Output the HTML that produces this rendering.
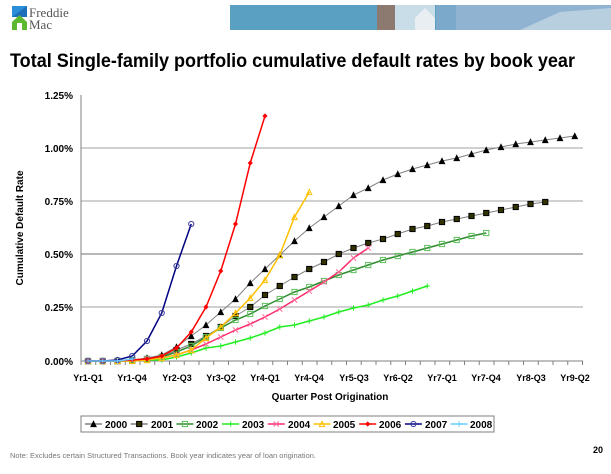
<!DOCTYPE html>
<html><head><meta charset="utf-8"><style>
body{margin:0;width:611px;height:469px;background:#fff;overflow:hidden;font-family:"Liberation Sans",sans-serif;}
</style></head><body>
<svg width="611" height="469" xmlns="http://www.w3.org/2000/svg" font-family="Liberation Sans, sans-serif">
<rect x="12" y="6" width="15" height="11" fill="#2a8fd8"/>
<polygon points="12,17 27,6 27,17" fill="#1c6fb8"/>
<polygon points="12,22 19.5,15 27,22 27,30 12,30" fill="#5cb830"/>
<rect x="17" y="23" width="5" height="7" fill="#fff"/>
<text x="29" y="17" font-family="Liberation Serif, serif" font-size="13" fill="#555">Freddie</text>
<text x="29" y="29" font-family="Liberation Serif, serif" font-size="13" fill="#555">Mac</text>
<rect x="230" y="5" width="381" height="25" fill="#5aa0c3"/>
<rect x="377" y="5" width="18" height="25" fill="#8c7a70"/>
<rect x="395" y="5" width="40" height="25" fill="#c9dde8"/>
<polygon points="415,18 425,8 435,18 435,30 415,30" fill="#e8eef2"/>
<rect x="436" y="5" width="20" height="25" fill="#7aa9cc"/>
<rect x="456" y="5" width="155" height="25" fill="#8fb3d0"/>
<polygon points="520,30 560,12 611,8 611,30" fill="#b8cfe0"/>
<text x="10" y="67" font-size="19" font-weight="bold" fill="#000" textLength="565" lengthAdjust="spacingAndGlyphs">Total Single-family portfolio cumulative default rates by book year</text>
<g stroke="#a0a0a0" stroke-width="1">
<line x1="81" y1="148" x2="583" y2="148"/>
<line x1="81" y1="201" x2="583" y2="201"/>
<line x1="81" y1="254" x2="583" y2="254" stroke="#707070"/>
<line x1="81" y1="307" x2="583" y2="307"/>
</g>
<line x1="81" y1="95" x2="81" y2="361" stroke="#808080"/>
<line x1="81" y1="361" x2="583" y2="361" stroke="#808080"/>
<g id="ticks" stroke="#808080"></g>
<g font-size="10" font-weight="bold" fill="#000" text-anchor="end">
<text x="73" y="99">1.25%</text><text x="73" y="152">1.00%</text><text x="73" y="205">0.75%</text>
<text x="73" y="258">0.50%</text><text x="73" y="311">0.25%</text><text x="73" y="365">0.00%</text>
</g>
<g font-size="9" font-weight="bold" fill="#000" text-anchor="middle">
<text x="88" y="381">Yr1-Q1</text><text x="132" y="381">Yr1-Q4</text><text x="177" y="381">Yr2-Q3</text>
<text x="221" y="381">Yr3-Q2</text><text x="265" y="381">Yr4-Q1</text><text x="309" y="381">Yr4-Q4</text>
<text x="354" y="381">Yr5-Q3</text><text x="398" y="381">Yr6-Q2</text><text x="442" y="381">Yr7-Q1</text>
<text x="486" y="381">Yr7-Q4</text><text x="531" y="381">Yr8-Q3</text><text x="575" y="381">Yr9-Q2</text>
</g>
<text x="330" y="400" font-size="10" font-weight="bold" text-anchor="middle">Quarter Post Origination</text>
<text transform="translate(23,228) rotate(-90)" font-size="10" font-weight="bold" text-anchor="middle">Cumulative Default Rate</text>
<g id="series"></g>
<rect x="81" y="416" width="413" height="16" fill="#fff" stroke="#808080"/>
<g id="leg"></g>
<g font-size="10" font-weight="bold" fill="#000">
<text x="105" y="428">2000</text><text x="151" y="428">2001</text><text x="196" y="428">2002</text>
<text x="242" y="428">2003</text><text x="288" y="428">2004</text><text x="333" y="428">2005</text>
<text x="379" y="428">2006</text><text x="425" y="428">2007</text><text x="470" y="428">2008</text>
</g>
<text x="10" y="458" font-size="7.5" fill="#777">Note:  Excludes certain Structured Transactions.  Book year indicates year of loan origination.</text>
<text x="603" y="453" font-size="9" font-weight="bold" text-anchor="end">20</text>
</svg>
<script>
var NS="http://www.w3.org/2000/svg";
function X(i){return 88+i*14.75;}
var t=document.getElementById('ticks');
for(var i=0;i<=34;i++){var l=document.createElementNS(NS,'line');var x=81+i*14.75;l.setAttribute('x1',x);l.setAttribute('x2',x);l.setAttribute('y1',361);l.setAttribute('y2',365);t.appendChild(l);}
var S=[
{c:"#808080",m:"tri",mc:"#000",d:[361,361,361,360,358,355,347,336,325,312,299,283,269,255,241,228,217,206,195,188,180,174,169,165,161,158,154,150,147,144,142,140,138,136]},
{c:"#808080",m:"sq",mc:"#333300",d:[361,361,361,360,359,357,350,344,336,327,316,307,295,286,277,269,262,254,248,243,239,234,229,226,222,219,216,213,210,207,204,202]},
{c:"#2e8b2e",m:"osq",mc:"#5cc05c",d:[361,361,361,360,359,357,352,346,337,328,320,314,306,299,292,287,281,275,270,265,260,256,252,248,244,240,236,233]},
{c:"#22ee22",m:"plus",mc:"#22ee22",d:[361,361,361,361,360,360,357,353,348,346,342,338,333,327,325,321,317,312,308,305,300,296,291,286]},
{c:"#ff2a6a",m:"x",mc:"#ff6a9a",d:[361,361,361,360,359,358,355,350,344,337,330,324,317,309,300,291,282,272,258,248]},
{c:"#ffc000",m:"otri",mc:"#ffc000",d:[361,361,361,361,360,358,355,350,338,327,313,298,280,255,217,192]},
{c:"#ff0000",m:"dia",mc:"#ff0000",d:[361,361,361,360,359,356,348,332,307,271,224,163,116]},
{c:"#000080",m:"circ",mc:"#4040a0",d:[361,361,360,356,341,313,266,224]},
{c:"#66ccff",m:"plus",mc:"#66ccff",d:[361,361,361,359]}
];
function mark(g,m,x,y,c,sm){var e,s=sm||2.6;
 if(m=="tri"||m=="otri"){e=document.createElementNS(NS,'polygon');e.setAttribute('points',(x-s)+','+(y+s)+' '+x+','+(y-s)+' '+(x+s)+','+(y+s));e.setAttribute('fill',m=="tri"?c:'none');e.setAttribute('stroke',c);}
 else if(m=="sq"||m=="osq"){e=document.createElementNS(NS,'rect');e.setAttribute('x',x-s);e.setAttribute('y',y-s);e.setAttribute('width',2*s);e.setAttribute('height',2*s);e.setAttribute('fill',m=="sq"?c:'none');e.setAttribute('stroke',m=="sq"?'#000':c);}
 else if(m=="dia"){e=document.createElementNS(NS,'polygon');e.setAttribute('points',(x-s)+','+y+' '+x+','+(y-s)+' '+(x+s)+','+y+' '+x+','+(y+s));e.setAttribute('fill',c);}
 else if(m=="circ"){e=document.createElementNS(NS,'circle');e.setAttribute('cx',x);e.setAttribute('cy',y);e.setAttribute('r',s);e.setAttribute('fill','none');e.setAttribute('stroke',c);}
 else {e=document.createElementNS(NS,'path');var d=m=="x"?'M'+(x-s)+' '+(y-s)+'L'+(x+s)+' '+(y+s)+'M'+(x-s)+' '+(y+s)+'L'+(x+s)+' '+(y-s):'M'+(x-s)+' '+y+'L'+(x+s)+' '+y+'M'+x+' '+(y-s)+'L'+x+' '+(y+s);e.setAttribute('d',d);e.setAttribute('stroke',c);}
 g.appendChild(e);}
var g=document.getElementById('series'),lg=document.getElementById('leg');
S.forEach(function(s,k){var p=document.createElementNS(NS,'polyline');p.setAttribute('points',s.d.map(function(y,i){return X(i)+','+y}).join(' '));p.setAttribute('fill','none');p.setAttribute('stroke',s.c);p.setAttribute('stroke-width',k<2?1:1.5);g.appendChild(p);
 s.d.forEach(function(y,i){mark(g,s.m,X(i),y,s.mc);});
 var lx=85+k*45.7;var l=document.createElementNS(NS,'line');l.setAttribute('x1',lx);l.setAttribute('x2',lx+17);l.setAttribute('y1',424);l.setAttribute('y2',424);l.setAttribute('stroke',s.c);l.setAttribute('stroke-width',1.5);lg.appendChild(l);mark(lg,s.m,lx+8.5,424,s.mc);
});
</script>
</body></html>
